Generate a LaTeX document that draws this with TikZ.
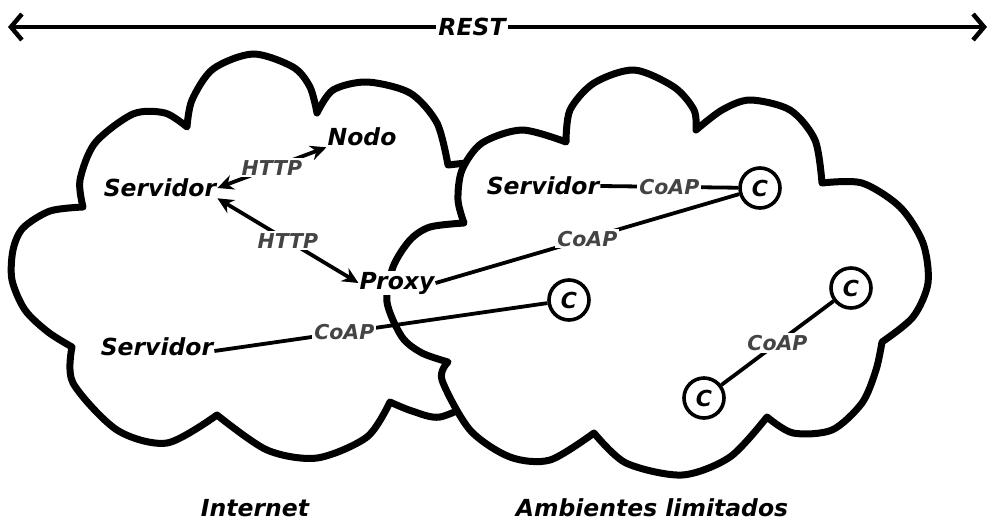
\documentclass[tikz,border=0pt]{standalone}
\usepackage{fontspec}
\setmainfont{DejaVu Sans}
\usetikzlibrary{arrows.meta}
\definecolor{lblgray}{HTML}{444444}
\newcommand\cloudw{7pt}
\newcommand\linew{3.8pt}
\newcommand\entsize{\fontsize{23.5}{26}\selectfont}
\newcommand\lblsize{\fontsize{20.5}{23}\selectfont}

\tikzset{
  ent/.style={font=\entsize\bfseries\itshape, fill=white, inner sep=1pt},
  lbl/.style={font=\lblsize\bfseries\itshape, text=lblgray, fill=white, inner sep=2pt},
  coap/.style={circle, draw, line width=3.6pt, minimum size=40pt, inner sep=0pt, fill=white,
    font=\fontsize{22}{24}\selectfont\bfseries\itshape},
  cloudline/.style={line width=\cloudw, line join=round, line cap=round},
  conn/.style={line width=\linew},
  tip/.style={{Stealth[length=16pt,width=15pt]}-{Stealth[length=16pt,width=15pt]}},
  barb/.style={{Straight Barb[length=11pt,width=26pt,line width=4.5pt]}-{Straight Barb[length=11pt,width=26pt,line width=4.5pt]}},
}

\begin{document}
\begin{tikzpicture}[x=1pt,y=-1pt]
  \useasboundingbox (0,0) rectangle (991,523);

  \begin{scope}
    \draw[cloudline]
      plot[smooth] coordinates {(72,347) (48,332) (25,310) (12,280) (13,250) (23,228) (50,211) (83,207)}
      -- plot[smooth] coordinates {(83,207) (80,180) (95,143) (133,114) (165,113) (187,127)}
      -- plot[smooth] coordinates {(187,127) (192,100) (213,69) (253,54) (293,67) (310,87) (317,113)}
      -- plot[smooth] coordinates {(317,113) (333,90) (367,82) (410,93) (437,123) (448,165)}
      -- (466,163) -- (520,200) -- (520,380) -- (480,400)
      -- plot[smooth] coordinates {(480,400) (440,417) (412,411) (390,402)}
      -- plot[smooth] coordinates {(390,402) (367,437) (317,458) (267,450) (217,415)}
      -- plot[smooth] coordinates {(217,415) (167,443) (117,430) (73,383) (72,347)}
      -- cycle;
  \end{scope}

  \begin{scope}
    \draw[cloudline, fill=white]
      plot[smooth] coordinates {(448,362) (422,353) (402,337) (387,302) (393,267) (410,240) (430,227) (464,223)}
      -- plot[smooth] coordinates {(464,223) (458,200) (462,170) (482,143) (522,130) (566,142)}
      -- plot[smooth] coordinates {(566,142) (570,110) (594,83) (634,70) (674,87) (694,110) (696,130)}
      -- plot[smooth] coordinates {(696,130) (722,110) (750,100) (790,110) (815,140) (822,183)}
      -- plot[smooth] coordinates {(822,183) (862,183) (900,207) (923,243) (928,283) (913,317) (882,342)}
      -- plot[smooth] coordinates {(882,342) (876,370) (862,403) (832,430) (793,433) (767,417)}
      -- plot[smooth] coordinates {(767,417) (730,457) (682,475) (626,463) (594,433)}
      -- plot[smooth] coordinates {(594,433) (550,460) (510,457) (470,430) (442,380) (448,362)}
      -- cycle;
  \end{scope}

  \node[ent] (srvhttp) at (160,188) {Servidor};
  \node[ent] (nodo) at (362,137) {Nodo};
  \node[ent] (proxy) at (397,283) {Proxy};
  \node[ent] (srvcoap) at (157,347) {Servidor};
  \node[ent] (srvlim) at (543,186) {Servidor};
  \node[coap] (c1) at (760,188) {C};
  \node[coap] (c2) at (569,300) {C};
  \node[coap] (c3) at (851,288) {C};
  \node[coap] (c4) at (704,398) {C};

  \node[ent, fill=none] (inet) at (255,508) {Internet};
  \node[ent, fill=none] (amb) at (652,508) {Ambientes limitados};

  \coordinate (restl) at (8,27);
  \coordinate (restr) at (987,27);
  \draw[conn, barb] (restl) -- node[lbl, pos=0.474, text=black, font=\entsize\bfseries\itshape] {REST} (restr);

  \draw[conn, tip] (srvhttp.east) -- node[lbl] {HTTP} (nodo.south west);
  \draw[conn, tip] (srvhttp.south east) -- node[lbl] {HTTP} (proxy.west);
  \draw[conn] (proxy.east) -- node[lbl] {CoAP} (c1);
  \draw[conn] (srvlim.east) -- node[lbl] {CoAP} (c1);
  \draw[conn] ([yshift=-4pt]srvcoap.east) -- node[lbl, pos=0.39] {CoAP} (c2);
  \draw[conn] (c3) -- node[lbl] {CoAP} (c4);
\end{tikzpicture}
\end{document}
